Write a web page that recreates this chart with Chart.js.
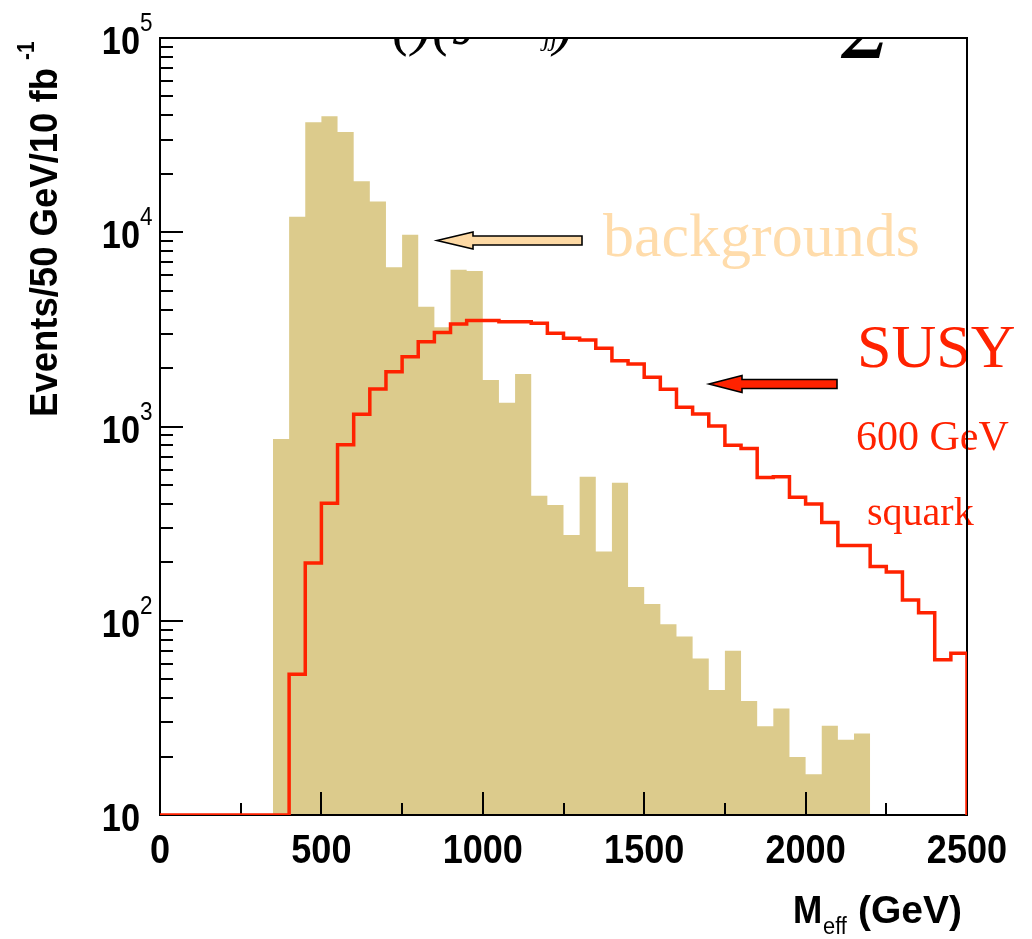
<!DOCTYPE html>
<html>
<head>
<meta charset="utf-8">
<script src="https://cdn.jsdelivr.net/npm/chart.js@4.4.1/dist/chart.umd.min.js"></script>
<style>
  html, body { margin: 0; padding: 0; background: #fff; }
  #wrap { width: 1032px; height: 939px; }
</style>
</head>
<body>
<div id="wrap"><canvas id="meffChart" width="1032" height="939"></canvas></div>
<script>
// histogram bins are 50 GeV wide
const binWidth = 50;

// Standard Model backgrounds, first bin 350-400 GeV
const bkgStart = 350;
const bkgValues = [
  863, 12000, 36800, 39500, 32800, 18300, 14400, 6600, 9700, 4140,
  3240, 6420, 6310, 1733, 1327, 1862, 440, 394, 276, 552,
  227, 514, 149, 122, 96, 83, 64, 44, 70, 38.6,
  28.6, 35.3, 19.9, 16.2, 28.8, 24.4, 26.3
];

// SUSY signal (600 GeV squark), first bin 0-50 GeV; empty bins sit on the axis at 10
const susyStart = 0;
const susyValues = [
  10, 10, 10, 10, 10, 10, 10, 10, 53, 198,
  403, 805, 1155, 1560, 1915, 2287, 2733, 3043, 3373, 3508,
  3508, 3466, 3466, 3400, 3016, 2843, 2787, 2528, 2183, 2099,
  1792, 1555, 1256, 1159, 1006, 800, 770, 546, 552, 432,
  399, 320, 244, 244, 190, 178, 128, 110, 63, 68
];

const xTicks = [0, 500, 1000, 1500, 2000, 2500];
const yDecades = [1, 2, 3, 4, 5];

const xMin = 0, xMax = 2500, yMin = 10, yMax = 100000;

const bkgColor = '#dccb8c';
const susyColor = '#ff2200';

function toSteps(start, values) {
  const pts = values.map((v, i) => ({ x: start + i * binWidth, y: v }));
  pts.push({ x: start + values.length * binWidth, y: yMin });
  return pts;
}

// ROOT's helvetica comes out narrower than Liberation Sans, so squeeze it a bit
function squeezedText(ctx, text, x, y, sx, align) {
  const w = ctx.measureText(text).width * sx;
  let x0 = x;
  if (align === 'right') x0 = x - w;
  else if (align === 'center') x0 = x - w / 2;
  ctx.save();
  ctx.textAlign = 'left';
  ctx.translate(x0, y);
  ctx.scale(sx, 1);
  ctx.fillText(text, 0, 0);
  ctx.restore();
  return w;
}

function drawArrow(ctx, tipX, tailX, yc, shaftHalf, headHalf, headLen, fill) {
  ctx.beginPath();
  ctx.moveTo(tipX, yc);
  ctx.lineTo(tipX + headLen, yc - headHalf);
  ctx.lineTo(tipX + headLen, yc - shaftHalf);
  ctx.lineTo(tailX, yc - shaftHalf);
  ctx.lineTo(tailX, yc + shaftHalf);
  ctx.lineTo(tipX + headLen, yc + shaftHalf);
  ctx.lineTo(tipX + headLen, yc + headHalf);
  ctx.closePath();
  ctx.fillStyle = fill;
  ctx.fill();
  ctx.lineWidth = 1.6;
  ctx.strokeStyle = '#000';
  ctx.stroke();
}

const histDecor = {
  id: 'histDecor',
  beforeDatasetsDraw(chart) {
    const ctx = chart.ctx;
    const { left, right, top } = chart.chartArea;
    ctx.save();
    // title line that got cut off by the frame
    ctx.beginPath();
    ctx.rect(left, top, right - left, 30);
    ctx.clip();
    ctx.fillStyle = '#000';
    ctx.font = 'italic 60px "Liberation Serif"';
    ctx.textAlign = 'left';
    ctx.textBaseline = 'alphabetic';
    ctx.fillText('()(J \u2013\u2013)', 392, 44);
    ctx.font = 'italic 26px "Liberation Serif"';
    ctx.fillText('jj', 543, 46);
    ctx.font = 'bold italic 72px "Liberation Serif"';
    ctx.fillText('\u03a3', 842, 58);
    ctx.restore();

    // annotation text
    ctx.save();
    ctx.textAlign = 'left';
    ctx.textBaseline = 'alphabetic';
    ctx.fillStyle = '#ffdcab';
    ctx.font = '62px "Liberation Serif"';
    ctx.fillText('backgrounds', 603, 256);
    ctx.fillStyle = susyColor;
    ctx.font = '62px "Liberation Serif"';
    ctx.fillText('SUSY', 857, 367);
    ctx.font = '42px "Liberation Serif"';
    ctx.fillText('600 GeV', 856, 450);
    ctx.font = '40px "Liberation Serif"';
    ctx.fillText('squark', 867, 525);
    ctx.restore();
  },
  afterDatasetDraw(chart, args) {
    // frame and ticks go over the filled background but under the SUSY line
    if (args.index !== 1) return;
    const ctx = chart.ctx;
    const xs = chart.scales.x, ys = chart.scales.y;
    const { left, right, top, bottom } = chart.chartArea;
    ctx.save();
    ctx.strokeStyle = '#000';
    ctx.lineWidth = 2;
    ctx.strokeRect(left, top, right - left, bottom - top);
    ctx.beginPath();
    yDecades.forEach(d => {
      for (let m = 1; m <= 9; m++) {
        const v = m * Math.pow(10, d);
        if (v > yMax) break;
        const y = Math.round(ys.getPixelForValue(v));
        const len = m === 1 ? 23 : 13;
        ctx.moveTo(left, y);
        ctx.lineTo(left + len, y);
      }
    });
    for (let v = xMin; v <= xMax; v += 250) {
      const x = Math.round(xs.getPixelForValue(v));
      const len = v % 500 === 0 ? 23 : 12;
      ctx.moveTo(x, bottom);
      ctx.lineTo(x, bottom - len);
    }
    ctx.stroke();
    ctx.restore();
  },
  afterDraw(chart) {
    const ctx = chart.ctx;
    const xs = chart.scales.x, ys = chart.scales.y;
    const { bottom } = chart.chartArea;
    ctx.save();
    ctx.fillStyle = '#000';
    ctx.textBaseline = 'alphabetic';

    // y tick labels: 10, 10^2 ... 10^5
    yDecades.forEach(d => {
      const y = ys.getPixelForValue(Math.pow(10, d));
      ctx.font = 'bold 39px "Liberation Sans"';
      squeezedText(ctx, '10', 140, y + 16, 0.88, 'right');
      if (d > 1) {
        ctx.font = '25px "Liberation Sans"';
        squeezedText(ctx, String(d), 140, y - 7, 0.9, 'left');
      }
    });

    // x tick labels
    ctx.font = 'bold 41px "Liberation Sans"';
    xTicks.forEach(v => {
      squeezedText(ctx, String(v), xs.getPixelForValue(v), bottom + 48, 0.88, 'center');
    });

    // x axis title
    ctx.font = 'bold 39px "Liberation Sans"';
    squeezedText(ctx, 'M', 793, 923, 0.9, 'left');
    ctx.font = '23px "Liberation Sans"';
    squeezedText(ctx, 'eff', 823, 934, 0.95, 'left');
    ctx.font = 'bold 39px "Liberation Sans"';
    squeezedText(ctx, '(GeV)', 858, 923, 1.0, 'left');

    // y axis title
    ctx.save();
    ctx.translate(57, 417);
    ctx.rotate(-Math.PI / 2);
    ctx.font = 'bold 39px "Liberation Sans"';
    const title = 'Events/50 GeV/10 fb';
    const sx = 349 / ctx.measureText(title).width;
    const w = squeezedText(ctx, title, 0, 0, sx, 'left');
    ctx.font = 'bold 23px "Liberation Sans"';
    squeezedText(ctx, '-1', w + 8, -23, 0.9, 'left');
    ctx.restore();

    // arrows pointing at the two histograms
    drawArrow(ctx, 437, 582, 240.5, 4.5, 8.5, 36, '#fdd9a4');
    drawArrow(ctx, 709, 837, 384, 4.5, 8.5, 33, susyColor);
    ctx.restore();
  }
};

new Chart(document.getElementById('meffChart'), {
  type: 'line',
  data: {
    datasets: [
      {
        label: 'SUSY',
        data: toSteps(susyStart, susyValues),
        stepped: true,
        borderColor: susyColor,
        borderWidth: 3.5,
        pointRadius: 0,
        fill: false
      },
      {
        label: 'backgrounds',
        data: toSteps(bkgStart, bkgValues),
        stepped: true,
        borderWidth: 0,
        borderColor: bkgColor,
        backgroundColor: bkgColor,
        pointRadius: 0,
        fill: 'start'
      }
    ]
  },
  options: {
    responsive: false,
    animation: false,
    layout: { padding: { left: 160, top: 38, right: 65, bottom: 124 } },
    plugins: { legend: { display: false }, tooltip: { enabled: false } },
    scales: {
      x: {
        type: 'linear', min: xMin, max: xMax,
        grid: { display: false }, border: { display: false },
        ticks: { display: false },
        afterFit(scale) { scale.height = 0; }
      },
      y: {
        type: 'logarithmic', min: yMin, max: yMax,
        grid: { display: false }, border: { display: false },
        ticks: { display: false },
        afterFit(scale) { scale.width = 0; }
      }
    }
  },
  plugins: [histDecor]
});
</script>
</body>
</html>
